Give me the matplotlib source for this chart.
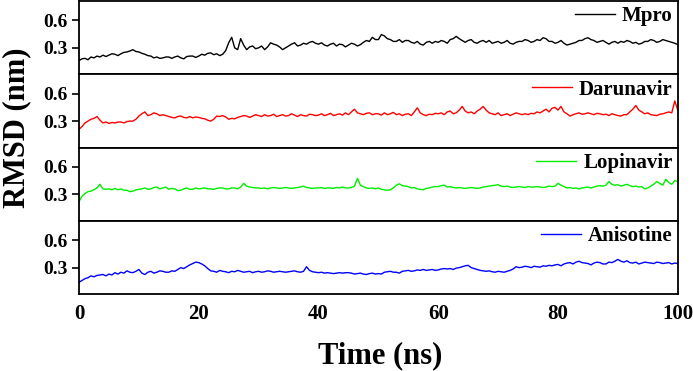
import matplotlib
matplotlib.use("Agg")
import matplotlib.pyplot as plt
import numpy as np

time_ns = np.arange(0, 100.5, 0.5)

mpro = [
    0.16, 0.18, 0.185, 0.17, 0.20, 0.19, 0.21, 0.20, 0.22, 0.205,
    0.22, 0.235, 0.23, 0.215, 0.235, 0.25, 0.255, 0.265, 0.28, 0.26,
    0.255, 0.24, 0.23, 0.215, 0.21, 0.19, 0.20, 0.185, 0.19, 0.20,
    0.20, 0.185, 0.20, 0.21, 0.19, 0.18, 0.205, 0.21, 0.21, 0.195,
    0.21, 0.23, 0.22, 0.24, 0.245, 0.225, 0.235, 0.215, 0.23, 0.27,
    0.355, 0.415, 0.30, 0.28, 0.40, 0.33, 0.28, 0.31, 0.32, 0.29,
    0.30, 0.32, 0.28, 0.31, 0.355, 0.34, 0.33, 0.31, 0.28, 0.30,
    0.32, 0.34, 0.355, 0.32, 0.33, 0.35, 0.34, 0.36, 0.37, 0.35,
    0.34, 0.355, 0.33, 0.32, 0.34, 0.35, 0.32, 0.34, 0.335, 0.31,
    0.33, 0.35, 0.34, 0.32, 0.335, 0.36, 0.38, 0.37, 0.415, 0.39,
    0.39, 0.445, 0.43, 0.40, 0.39, 0.37, 0.37, 0.39, 0.36, 0.38,
    0.38, 0.36, 0.35, 0.37, 0.34, 0.33, 0.36, 0.37, 0.35, 0.37,
    0.36, 0.38, 0.37, 0.35, 0.39, 0.40, 0.425, 0.40, 0.38, 0.36,
    0.38, 0.39, 0.36, 0.35, 0.37, 0.38, 0.36, 0.38, 0.35, 0.36,
    0.37, 0.35, 0.36, 0.38, 0.35, 0.34, 0.36, 0.37, 0.37, 0.39,
    0.38, 0.36, 0.37, 0.39, 0.38, 0.41, 0.40, 0.37, 0.37, 0.35,
    0.36, 0.38, 0.35, 0.33, 0.34, 0.35, 0.36, 0.38, 0.38, 0.40,
    0.41, 0.39, 0.38, 0.36, 0.37, 0.38, 0.36, 0.34, 0.36, 0.37,
    0.35, 0.37, 0.36, 0.38, 0.37, 0.35, 0.36, 0.34, 0.35, 0.37,
    0.37, 0.39, 0.38, 0.36, 0.37, 0.39, 0.38, 0.37, 0.36, 0.35,
    0.335,
]

darunavir = [
    0.21, 0.24, 0.28, 0.30, 0.32, 0.33, 0.35, 0.31, 0.28, 0.29,
    0.275, 0.285, 0.28, 0.29, 0.29, 0.28, 0.295, 0.30, 0.30, 0.32,
    0.355, 0.38, 0.40, 0.36, 0.37, 0.39, 0.38, 0.36, 0.37, 0.36,
    0.35, 0.34, 0.335, 0.35, 0.355, 0.34, 0.335, 0.35, 0.335, 0.345,
    0.34, 0.33, 0.325, 0.31, 0.30, 0.32, 0.355, 0.35, 0.36, 0.345,
    0.32, 0.33, 0.325, 0.34, 0.35, 0.36, 0.355, 0.34, 0.355, 0.37,
    0.36, 0.35, 0.37, 0.355, 0.36, 0.375, 0.35, 0.36, 0.37, 0.355,
    0.36, 0.38, 0.365, 0.35, 0.37, 0.36, 0.355, 0.375, 0.37, 0.36,
    0.365, 0.38, 0.36, 0.37, 0.385, 0.36, 0.37, 0.38, 0.365, 0.39,
    0.37, 0.40, 0.43, 0.39, 0.38, 0.37, 0.385, 0.39, 0.37, 0.38,
    0.38, 0.365, 0.39, 0.37, 0.38, 0.395, 0.37, 0.38, 0.36, 0.375,
    0.38, 0.36, 0.40, 0.445, 0.39, 0.37, 0.36, 0.375, 0.37, 0.385,
    0.38, 0.39, 0.37, 0.40, 0.41, 0.38, 0.39, 0.42, 0.46, 0.41,
    0.39, 0.40, 0.38, 0.41, 0.43, 0.46, 0.42, 0.39, 0.38, 0.37,
    0.39, 0.36, 0.37, 0.38, 0.36, 0.375, 0.39, 0.38, 0.37, 0.38,
    0.37, 0.385, 0.38, 0.40, 0.39, 0.41, 0.43, 0.40, 0.44, 0.45,
    0.42, 0.46, 0.40, 0.38, 0.355, 0.37, 0.38, 0.39, 0.375, 0.38,
    0.39, 0.38, 0.37, 0.385, 0.38, 0.37, 0.375, 0.36, 0.38, 0.37,
    0.36, 0.355, 0.37, 0.37, 0.40, 0.43, 0.47, 0.42, 0.40, 0.38,
    0.39, 0.37, 0.365, 0.36, 0.375, 0.38, 0.39, 0.40, 0.39, 0.52,
    0.42,
]

lopinavir = [
    0.22, 0.28, 0.31, 0.33, 0.335, 0.35, 0.37, 0.41, 0.36, 0.355,
    0.36, 0.35, 0.365, 0.35, 0.36, 0.345, 0.345, 0.33, 0.335, 0.35,
    0.355, 0.36, 0.37, 0.355, 0.36, 0.375, 0.38, 0.36, 0.37, 0.38,
    0.355, 0.365, 0.36, 0.34, 0.345, 0.36, 0.37, 0.355, 0.355, 0.37,
    0.36, 0.365, 0.37, 0.36, 0.36, 0.355, 0.365, 0.37, 0.37, 0.36,
    0.36, 0.37, 0.37, 0.36, 0.38, 0.42, 0.39, 0.38, 0.375, 0.37,
    0.37, 0.365, 0.37, 0.36, 0.37, 0.375, 0.37, 0.365, 0.37, 0.375,
    0.37, 0.365, 0.37, 0.375, 0.38, 0.39, 0.375, 0.37, 0.365, 0.37,
    0.37, 0.375, 0.365, 0.37, 0.37, 0.365, 0.375, 0.37, 0.38, 0.37,
    0.37, 0.375, 0.39, 0.475, 0.40, 0.385, 0.37, 0.365, 0.37, 0.36,
    0.37, 0.355, 0.35, 0.345, 0.35, 0.37, 0.40, 0.415, 0.395, 0.39,
    0.385, 0.37, 0.375, 0.36, 0.355, 0.35, 0.365, 0.37, 0.38, 0.385,
    0.385, 0.395, 0.40, 0.38, 0.385, 0.375, 0.37, 0.375, 0.37, 0.365,
    0.37, 0.375, 0.37, 0.365, 0.37, 0.38, 0.385, 0.39, 0.395, 0.40,
    0.405, 0.39, 0.385, 0.39, 0.38, 0.375, 0.38, 0.385, 0.38, 0.375,
    0.385, 0.38, 0.38, 0.385, 0.38, 0.375, 0.38, 0.39, 0.385, 0.39,
    0.42, 0.40, 0.385, 0.37, 0.375, 0.365, 0.37, 0.36, 0.37, 0.375,
    0.38, 0.37, 0.38, 0.39, 0.395, 0.39, 0.40, 0.44, 0.41, 0.40,
    0.405, 0.39, 0.40, 0.41, 0.395, 0.385, 0.39, 0.38, 0.385, 0.36,
    0.37, 0.39, 0.41, 0.44, 0.42, 0.40, 0.465, 0.43, 0.41, 0.45,
    0.44,
]

anisotine = [
    0.14, 0.16, 0.18, 0.19, 0.21, 0.20, 0.215, 0.22, 0.225, 0.21,
    0.23, 0.22, 0.245, 0.23, 0.25, 0.24, 0.265, 0.25, 0.245, 0.26,
    0.28, 0.24, 0.225, 0.25, 0.26, 0.24, 0.25, 0.265, 0.26, 0.25,
    0.25, 0.265, 0.26, 0.28, 0.30, 0.29, 0.31, 0.33, 0.345, 0.36,
    0.355, 0.34, 0.32, 0.29, 0.265, 0.26, 0.25, 0.27, 0.26, 0.255,
    0.245, 0.26, 0.255, 0.27, 0.26, 0.25, 0.255, 0.26, 0.245, 0.255,
    0.26, 0.25, 0.255, 0.265, 0.26, 0.25, 0.255, 0.26, 0.255, 0.25,
    0.255, 0.26, 0.265, 0.255, 0.25, 0.26, 0.31, 0.27, 0.255, 0.25,
    0.245, 0.25, 0.24, 0.245, 0.24, 0.235, 0.24, 0.245, 0.24, 0.245,
    0.245, 0.24, 0.23, 0.235, 0.24, 0.23, 0.225, 0.235, 0.24, 0.23,
    0.235, 0.23, 0.25, 0.255, 0.26, 0.25, 0.25, 0.24, 0.26, 0.265,
    0.27, 0.26, 0.265, 0.275, 0.27, 0.28, 0.27, 0.275, 0.28, 0.27,
    0.275, 0.285, 0.29, 0.285, 0.29, 0.28, 0.295, 0.30, 0.31, 0.32,
    0.325, 0.30, 0.29, 0.28, 0.27, 0.265, 0.26, 0.265, 0.255, 0.25,
    0.26, 0.255, 0.25, 0.26, 0.27, 0.285, 0.31, 0.30, 0.305, 0.315,
    0.31, 0.30, 0.315, 0.31, 0.305, 0.32, 0.315, 0.325, 0.32, 0.33,
    0.335, 0.32, 0.34, 0.35, 0.355, 0.34, 0.36, 0.37, 0.355, 0.35,
    0.345, 0.33, 0.35, 0.36, 0.355, 0.34, 0.34, 0.36, 0.355, 0.37,
    0.39, 0.37, 0.36, 0.375, 0.355, 0.35, 0.36, 0.34, 0.35, 0.36,
    0.355, 0.35, 0.345, 0.36, 0.355, 0.345, 0.35, 0.355, 0.34, 0.35,
    0.345,
]

labels = ["Mpro", "Darunavir", "Lopinavir", "Anisotine"]
series = [mpro, darunavir, lopinavir, anisotine]
line_colors = ["#000000", "#ff0000", "#00ee00", "#0000ff"]
x_ticks = [0, 20, 40, 60, 80, 100]
y_ticks = [0.3, 0.6]

plt.rcParams["font.family"] = ["Liberation Serif", "DejaVu Serif"]
plt.rcParams["font.weight"] = "bold"

fig, axes = plt.subplots(4, 1, sharex=True, figsize=(6.93, 3.71), dpi=100)
fig.subplots_adjust(left=0.114, right=0.978, top=0.997, bottom=0.207, hspace=0)

for ax, vals, lab, col in zip(axes, series, labels, line_colors):
    ax.plot(time_ns, vals, color=col, linewidth=1.0, label=lab)
    ax.set_xlim(0, 100)
    ax.set_ylim(0.01, 0.81)
    ax.set_yticks(y_ticks)
    ax.set_yticklabels(["0.3", "0.6"])
    ax.tick_params(axis="y", direction="out", length=5, width=1.2, pad=3,
                   labelsize=14)
    ax.tick_params(axis="x", length=0, labelsize=15, pad=7)
    for sp in ax.spines.values():
        sp.set_linewidth(1.3)
    leg = ax.legend(loc="upper right", frameon=False, fontsize=15,
                    handlelength=1.9, handletextpad=0.35,
                    borderaxespad=0.1, borderpad=0.15)
    for t in leg.get_texts():
        t.set_fontweight("bold")

axes[-1].set_xticks(x_ticks)
axes[-1].set_xticklabels([str(v) for v in x_ticks])

fig.text(17 / 693, 1 - 128 / 371, "RMSD (nm)", rotation=90, ha="center",
         va="center", fontsize=22, fontweight="bold")
fig.text(380 / 693, 1 - 356 / 371, "Time (ns)", ha="center", va="center",
         fontsize=22, fontweight="bold")

fig.savefig("out.png", dpi=100, facecolor="white")
plt.close()
